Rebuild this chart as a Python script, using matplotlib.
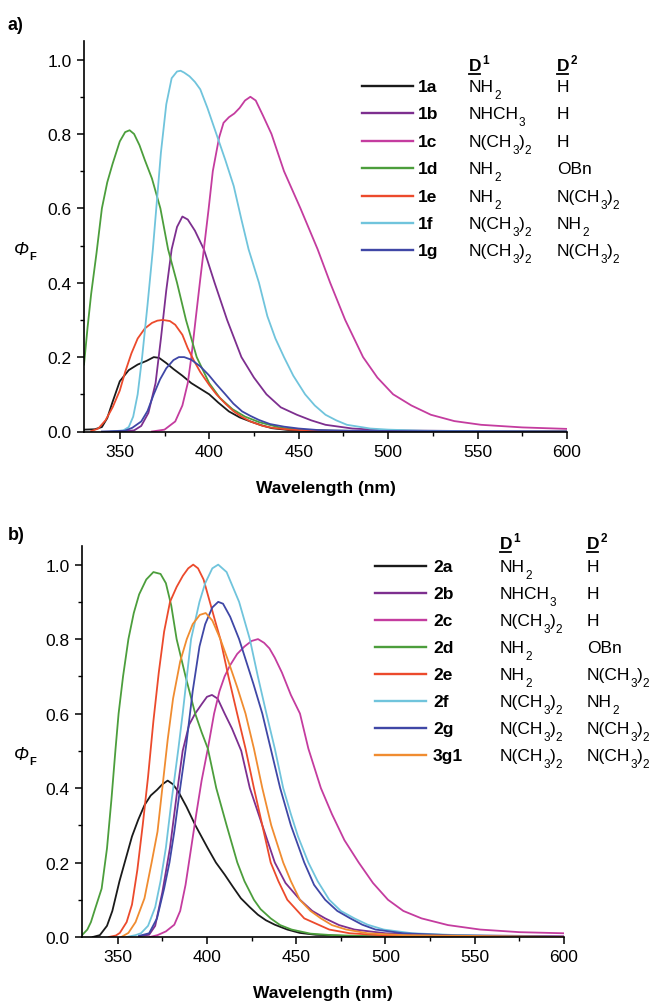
import matplotlib
matplotlib.use("Agg")
import matplotlib.pyplot as plt
from matplotlib.lines import Line2D
import numpy as np

plt.rcParams["font.family"] = ["Liberation Sans", "DejaVu Sans"]

# --- Panel a) data ---
wl_1a = [330, 336, 340, 343, 346, 350, 355, 360, 365, 369, 372, 376, 380, 385, 390, 395, 400,
         405, 411, 417, 423, 429, 435, 446, 460, 480, 520, 600]
phi_1a = [0.005, 0.006, 0.012, 0.036, 0.08, 0.135, 0.165, 0.18, 0.19, 0.2, 0.198, 0.184, 0.168,
          0.15, 0.13, 0.115, 0.1, 0.078, 0.054, 0.038, 0.027, 0.017, 0.009, 0.003, 0.001, 0, 0, 0]
wl_1b = [350, 358, 362, 366, 370, 373, 376, 379, 382, 385, 388, 392, 397, 403, 410, 418, 425,
         432, 440, 449, 457, 465, 480, 500, 550, 600]
phi_1b = [0, 0.003, 0.015, 0.05, 0.13, 0.25, 0.38, 0.49, 0.55, 0.578, 0.57, 0.54, 0.49, 0.4, 0.3,
          0.2, 0.145, 0.1, 0.065, 0.045, 0.03, 0.018, 0.008, 0.003, 0.001, 0]
wl_1c = [368, 375, 381, 385, 388, 390, 392.6, 395, 397, 399.7, 402, 405.5, 408, 411, 414, 417,
         420, 423, 426, 430, 434.8, 441.8, 451, 460.6, 467.6, 476, 486, 494, 502.8, 513, 523.9,
         537, 552, 575, 600]
phi_1c = [0, 0.005, 0.027, 0.07, 0.13, 0.2, 0.31, 0.41, 0.49, 0.6, 0.7, 0.79, 0.83, 0.845, 0.855,
          0.87, 0.89, 0.9, 0.89, 0.85, 0.8, 0.7, 0.6, 0.49, 0.4, 0.3, 0.2, 0.145, 0.1, 0.07,
          0.045, 0.028, 0.018, 0.011, 0.007]
wl_1d = [330, 332, 334, 337, 340, 343, 346, 350, 353, 355.5, 358, 361, 364, 368, 372.7, 377,
         382, 387, 393, 400, 406, 413, 420, 428, 440, 455, 470, 500, 600]
phi_1d = [0.18, 0.28, 0.37, 0.48, 0.6, 0.67, 0.72, 0.78, 0.805, 0.81, 0.8, 0.77, 0.73, 0.68, 0.6,
          0.49, 0.4, 0.3, 0.2, 0.13, 0.09, 0.06, 0.04, 0.025, 0.01, 0.004, 0.002, 0.001, 0]
wl_1e = [334, 338, 342, 346, 350, 353, 356.5, 360, 364, 368, 371, 374, 378, 381, 385, 388, 391.5,
         395, 400, 404, 409, 413.7, 418, 423, 430, 435, 445, 460, 480, 600]
phi_1e = [0.001, 0.008, 0.03, 0.065, 0.11, 0.16, 0.21, 0.25, 0.277, 0.292, 0.298, 0.3, 0.297,
          0.287, 0.26, 0.224, 0.19, 0.16, 0.125, 0.1, 0.075, 0.054, 0.04, 0.027, 0.015, 0.01,
          0.005, 0.002, 0.001, 0]
wl_1f = [345, 352, 355, 357.5, 360, 362.5, 365.5, 368.5, 370.4, 373, 376, 379, 382, 384, 386,
         389, 392, 395, 399, 404, 409, 413.7, 418, 422, 427.8, 432.5, 437, 441.8, 447, 453.6,
         459, 465, 471, 477, 490, 500, 520, 550, 600]
phi_1f = [0, 0.003, 0.012, 0.04, 0.1, 0.2, 0.34, 0.49, 0.6, 0.75, 0.88, 0.95, 0.968, 0.97, 0.965,
          0.955, 0.94, 0.92, 0.87, 0.8, 0.73, 0.66, 0.57, 0.49, 0.4, 0.31, 0.25, 0.2, 0.15, 0.1,
          0.07, 0.045, 0.03, 0.018, 0.008, 0.005, 0.002, 0.001, 0]
wl_1g = [340, 352.8, 357, 362, 365.5, 369, 372.5, 376, 380, 383, 386, 390, 395, 399.7, 404, 409,
         413.5, 418.4, 423, 427.8, 434, 441.8, 450, 460.6, 480, 520, 600]
phi_1g = [0, 0.002, 0.01, 0.027, 0.055, 0.1, 0.14, 0.17, 0.192, 0.2, 0.2, 0.193, 0.175, 0.152,
          0.127, 0.1, 0.075, 0.054, 0.042, 0.031, 0.02, 0.013, 0.008, 0.004, 0.002, 0.001, 0]

# --- Panel b) data ---
wl_2a = [336, 340, 344, 347, 351, 354.5, 358, 361.5, 365, 368.5, 372, 375, 378, 381, 384, 388.5,
         393.5, 400.5, 405, 410, 414.5, 419, 424, 428.5, 433, 438, 445, 452, 461, 471, 483, 520, 600]
phi_2a = [0, 0.005, 0.03, 0.07, 0.15, 0.21, 0.27, 0.315, 0.354, 0.38, 0.395, 0.41, 0.42, 0.41,
          0.39, 0.35, 0.3, 0.238, 0.2, 0.167, 0.135, 0.104, 0.08, 0.06, 0.045, 0.033, 0.02, 0.011,
          0.006, 0.004, 0.002, 0.001, 0]
wl_2b = [362, 367.6, 371, 375, 379.3, 383, 386.4, 390, 393.4, 397, 400, 402.8, 406, 409.9, 414,
         419.2, 424, 431, 438, 444, 452.1, 459, 466.2, 474, 482.6, 500, 530, 600]
phi_2b = [0.002, 0.006, 0.03, 0.12, 0.24, 0.38, 0.5, 0.57, 0.6, 0.625, 0.645, 0.65, 0.64, 0.6,
          0.56, 0.5, 0.4, 0.3, 0.2, 0.145, 0.1, 0.07, 0.05, 0.032, 0.02, 0.01, 0.005, 0.002]
wl_2c = [368, 372.3, 377, 381.7, 385, 388, 391.1, 394, 397, 400.5, 404, 407, 409.9, 413, 416.9,
         421, 425, 428.6, 432, 435, 438, 442, 447, 452.1, 456.8, 463.8, 470, 477, 485, 493, 501.4,
         510, 520.2, 535, 553, 575, 600]
phi_2c = [0, 0.005, 0.015, 0.033, 0.07, 0.14, 0.238, 0.33, 0.42, 0.506, 0.6, 0.66, 0.7, 0.73,
          0.76, 0.78, 0.795, 0.8, 0.79, 0.775, 0.75, 0.71, 0.65, 0.6, 0.506, 0.4, 0.33, 0.26, 0.2,
          0.145, 0.1, 0.07, 0.05, 0.032, 0.02, 0.013, 0.01]
wl_2d = [330, 333, 335, 337.5, 341, 344, 346.5, 348.8, 350.5, 353, 356, 359, 362, 366, 370, 374,
         377, 380, 383, 388, 393.4, 397, 400.5, 405.2, 411, 417, 421, 426.3, 430, 435.7, 441,
         447.4, 458, 470, 500, 600]
phi_2d = [0.005, 0.02, 0.04, 0.078, 0.13, 0.238, 0.37, 0.506, 0.6, 0.7, 0.8, 0.87, 0.92, 0.96,
          0.98, 0.975, 0.95, 0.89, 0.8, 0.7, 0.6, 0.55, 0.506, 0.4, 0.3, 0.2, 0.15, 0.1, 0.075,
          0.05, 0.032, 0.02, 0.009, 0.005, 0.001, 0]
wl_2e = [345, 349, 351.2, 355, 358, 361, 364, 367, 370, 373, 376, 379.3, 383, 386.5, 389.5,
         392.3, 395, 398.1, 401.6, 404.5, 407.5, 412, 416.9, 421.6, 426.3, 431, 435.7, 440, 445,
         454.5, 468.5, 480, 500, 600]
phi_2e = [0, 0.004, 0.011, 0.04, 0.087, 0.18, 0.3, 0.43, 0.58, 0.71, 0.82, 0.9, 0.94, 0.97, 0.99,
          1.0, 0.99, 0.96, 0.9, 0.85, 0.8, 0.7, 0.6, 0.506, 0.4, 0.3, 0.2, 0.15, 0.1, 0.05, 0.02,
          0.01, 0.004, 0]
wl_2f = [355, 360, 363, 367, 371, 374, 377, 380, 384, 386.4, 391.1, 395.8, 399, 403, 406.3, 411,
         414.5, 418, 424, 428.5, 433.3, 438, 442.7, 447, 451, 456.8, 462, 468.5, 475, 482.6, 490,
         499, 515, 540, 600]
phi_2f = [0, 0.005, 0.01, 0.03, 0.08, 0.15, 0.24, 0.36, 0.506, 0.6, 0.8, 0.9, 0.95, 0.99, 1.0,
          0.98, 0.94, 0.9, 0.8, 0.7, 0.6, 0.506, 0.4, 0.33, 0.27, 0.2, 0.15, 0.1, 0.07, 0.05,
          0.033, 0.02, 0.01, 0.005, 0]
wl_2g = [362, 367.6, 372, 376, 379, 381.7, 385, 388.5, 392, 395.8, 399, 403, 406.3, 409, 413,
         418, 422, 426, 431, 436, 441, 447, 454.5, 460, 466.2, 473, 480.3, 487, 494.4, 510, 540, 600]
phi_2g = [0.003, 0.01, 0.05, 0.13, 0.2, 0.283, 0.4, 0.52, 0.66, 0.78, 0.84, 0.885, 0.9, 0.895,
          0.86, 0.8, 0.74, 0.68, 0.6, 0.5, 0.4, 0.3, 0.2, 0.14, 0.1, 0.07, 0.05, 0.033, 0.02,
          0.01, 0.004, 0]
wl_3g1 = [352, 356, 360, 365, 369, 372.3, 375, 378, 381, 385, 388.7, 392, 396, 399.3, 403, 407.5,
          412, 417, 421.6, 426.3, 431, 436, 442.7, 447, 452, 458, 463.8, 470, 478, 490, 510, 600]
phi_3g1 = [0, 0.011, 0.04, 0.104, 0.2, 0.283, 0.4, 0.53, 0.64, 0.74, 0.8, 0.84, 0.865, 0.87, 0.85,
           0.8, 0.74, 0.67, 0.6, 0.506, 0.4, 0.3, 0.2, 0.15, 0.1, 0.07, 0.05, 0.032, 0.02, 0.01,
           0.005, 0]

# legend table ("_x" = subscript x)
names_a = ["1a", "1b", "1c", "1d", "1e", "1f", "1g"]
names_b = ["2a", "2b", "2c", "2d", "2e", "2f", "2g", "3g1"]
d1_a = ["NH_2", "NHCH_3", "N(CH_3)_2", "NH_2", "NH_2", "N(CH_3)_2", "N(CH_3)_2"]
d2_a = ["H", "H", "H", "OBn", "N(CH_3)_2", "NH_2", "N(CH_3)_2"]
d1_b = d1_a + ["N(CH_3)_2"]
d2_b = d2_a + ["N(CH_3)_2"]

col_black = "#1a1a1a"
col_purple = "#7d2f8f"
col_magenta = "#c43c9f"
col_green = "#4c9e3c"
col_red = "#ec4a2c"
col_cyan = "#70c4dc"
col_blue = "#3f47a6"
col_orange = "#f08c30"
colors_a = [col_black, col_purple, col_magenta, col_green, col_red, col_cyan, col_blue]
colors_b = colors_a + [col_orange]

series_a = [(wl_1a, phi_1a), (wl_1b, phi_1b), (wl_1c, phi_1c), (wl_1d, phi_1d),
            (wl_1e, phi_1e), (wl_1f, phi_1f), (wl_1g, phi_1g)]
series_b = [(wl_2a, phi_2a), (wl_2b, phi_2b), (wl_2c, phi_2c), (wl_2d, phi_2d),
            (wl_2e, phi_2e), (wl_2f, phi_2f), (wl_2g, phi_2g), (wl_3g1, phi_3g1)]

W, H = 656, 1003
FS = 12.5
fig = plt.figure(figsize=(W / 100, H / 100), dpi=100)
renderer = fig.canvas.get_renderer()


def fx(x):
    return x / W


def fy(y):
    return 1 - y / H


def rich(x, y, s, size=FS, weight="normal", style="normal", sub_size=8.5, shift=7,
         sub_weight=None):
    # draws text piece by piece, "_c" = subscript c, "^c" = superscript c ; y = baseline (px)
    if sub_weight is None:
        sub_weight = weight
    pieces = []
    i = 0
    buf = ""
    while i < len(s):
        if s[i] in "_^" and i + 1 < len(s):
            if buf:
                pieces.append((buf, 0))
                buf = ""
            pieces.append((s[i + 1], 1 if s[i] == "_" else -1))
            i += 2
        else:
            buf += s[i]
            i += 1
    if buf:
        pieces.append((buf, 0))
    for txt, kind in pieces:
        if kind == 0:
            t = fig.text(fx(x), fy(y), txt, fontsize=size, fontweight=weight, fontstyle=style,
                         ha="left", va="baseline")
        elif kind == 1:
            t = fig.text(fx(x), fy(y + shift), txt, fontsize=sub_size, fontweight=sub_weight,
                         ha="left", va="baseline")
        else:
            t = fig.text(fx(x + 1), fy(y - 7), txt, fontsize=sub_size, fontweight=sub_weight,
                         ha="left", va="baseline")
        x += t.get_window_extent(renderer).width + (1 if kind == -1 else 0)
    return x


def style_axes(ax):
    ax.set_xlim(330, 600)
    ax.set_ylim(0, 1.05)
    ax.spines["top"].set_visible(False)
    ax.spines["right"].set_visible(False)
    for s in ("left", "bottom"):
        ax.spines[s].set_linewidth(1.2)
    ax.set_xticks(np.arange(350, 601, 50))
    ax.set_xticks(np.arange(375, 600, 50), minor=True)
    ax.set_yticks(np.arange(0, 1.01, 0.2))
    ax.set_yticks(np.arange(0.1, 1.0, 0.2), minor=True)
    ax.yaxis.set_major_formatter(matplotlib.ticker.FormatStrFormatter("%.1f"))
    ax.tick_params(which="major", direction="out", length=5, width=1.1, labelsize=FS, pad=4)
    ax.tick_params(which="minor", direction="out", length=3, width=1.0)
    ax.patch.set_alpha(0)


def draw_legend(names, d1, d2, colors, x_line0, x_line1, x_name, x_d1, x_d2, y_head, y0, dy):
    for col_x, sup in ((x_d1, "1"), (x_d2, "2")):
        rich(col_x, y_head + 5, "D^" + sup, weight="bold")
        fig.add_artist(Line2D([fx(col_x), fx(col_x + 11)], [fy(y_head + 9), fy(y_head + 9)],
                              color="black", lw=1.3))
    for i, (n, a, b, c) in enumerate(zip(names, d1, d2, colors)):
        y = y0 + i * dy
        fig.add_artist(Line2D([fx(x_line0), fx(x_line1)], [fy(y), fy(y)], color=c, lw=1.7))
        rich(x_name, y + 5, n, weight="bold")
        rich(x_d1, y + 5, a)
        rich(x_d2, y + 5, b)


# panel a
ax1 = fig.add_axes([fx(84), fy(432.5), fx(567) - fx(84), (432.5 - 42) / H])
style_axes(ax1)
for (x, y), c in zip(series_a, colors_a):
    ax1.plot(x, y, color=c, lw=1.3)
fig.text(fx(8), fy(25), "a)", fontsize=13, fontweight="bold", ha="left", va="center")
fig.text(fx(326), fy(489), "Wavelength (nm)", fontsize=FS, fontweight="bold",
         ha="center", va="center")
rich(14, 255, "\u03a6_F", size=13, style="italic", sub_size=8, shift=5, sub_weight="bold")
draw_legend(names_a, d1_a, d2_a, colors_a, 362, 413, 418, 469, 557, 66, 87, 27.4)

# panel b
ax2 = fig.add_axes([fx(82), fy(938), fx(564) - fx(82), (938 - 547) / H])
style_axes(ax2)
for (x, y), c in zip(series_b, colors_b):
    ax2.plot(x, y, color=c, lw=1.3)
fig.text(fx(8), fy(536), "b)", fontsize=13, fontweight="bold", ha="left", va="center")
fig.text(fx(323), fy(994), "Wavelength (nm)", fontsize=FS, fontweight="bold",
         ha="center", va="center")
rich(14, 760, "\u03a6_F", size=13, style="italic", sub_size=8, shift=5, sub_weight="bold")
draw_legend(names_b, d1_b, d2_b, colors_b, 375, 426, 433, 500, 587, 544, 567, 27.0)

fig.savefig("out.png", dpi=100)
